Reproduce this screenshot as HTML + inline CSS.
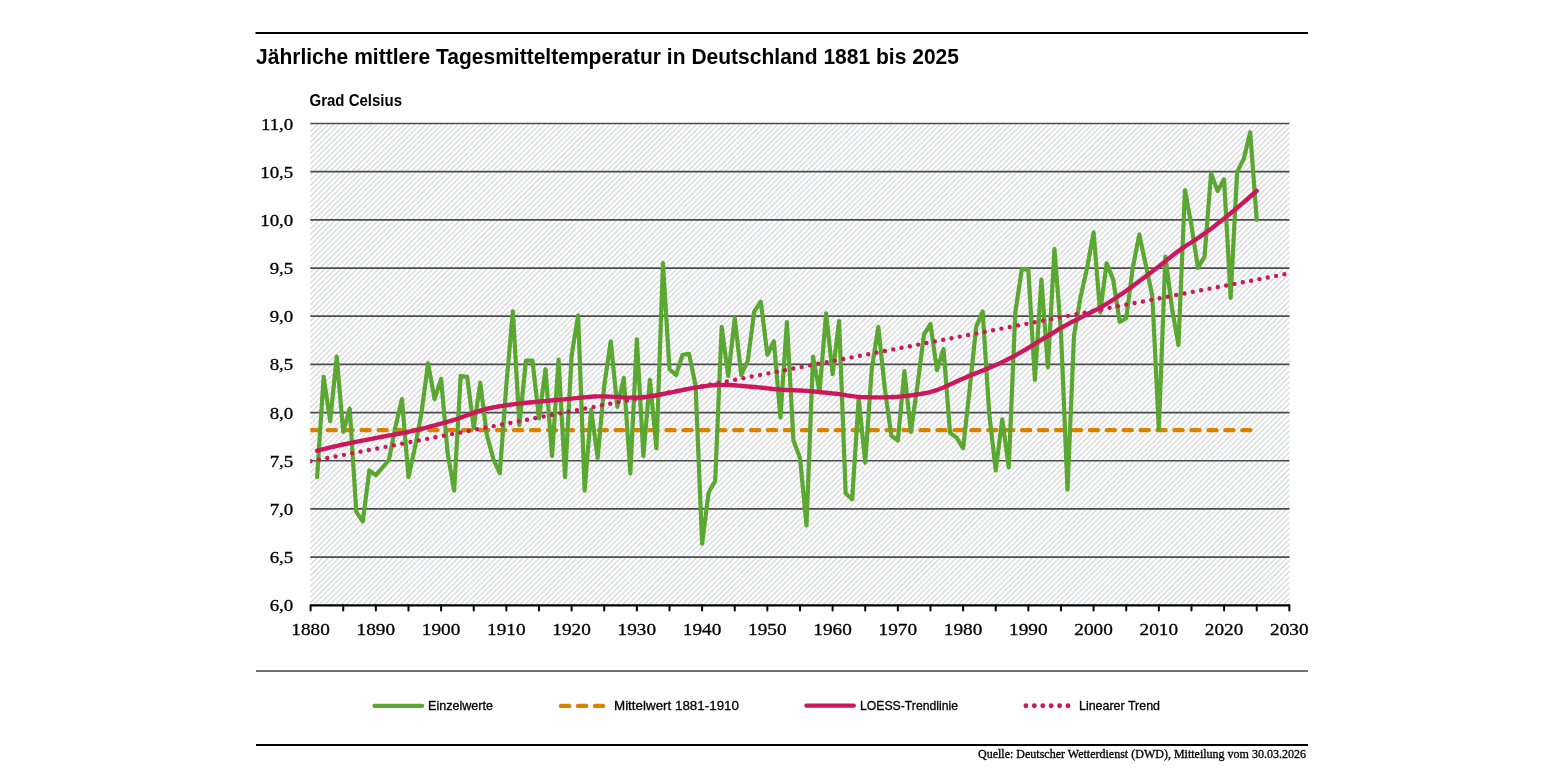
<!DOCTYPE html>
<html><head><meta charset="utf-8"><style>
html,body{margin:0;padding:0;background:#fff;}
body{width:1545px;height:775px;overflow:hidden;}
svg{display:block;will-change:transform;}
.ax{font-family:"Liberation Serif",serif;font-size:16.3px;fill:#000;stroke:#000;stroke-width:0.3px;}
.tt{font-family:"Liberation Sans",sans-serif;font-weight:bold;fill:#000;}
.lg{font-family:"Liberation Sans",sans-serif;font-size:12.6px;fill:#000;stroke:#000;stroke-width:0.3px;}
.src{font-family:"Liberation Serif",serif;font-size:11.5px;fill:#000;stroke:#000;stroke-width:0.3px;}
</style></head><body>
<svg width="1545" height="775" viewBox="0 0 1545 775">
<defs>
<pattern id="hatch" patternUnits="userSpaceOnUse" width="3.83" height="3.83" patternTransform="translate(2.35,0) rotate(45)">
<rect width="3.83" height="3.83" fill="#fff"/>
<rect x="0" y="0" width="1.0" height="3.83" fill="#ccced1"/>
</pattern>
<clipPath id="plot"><rect x="310.3" y="110" width="979.2" height="496"/></clipPath>
</defs>
<rect x="255.5" y="32" width="1052.5" height="2" fill="#000"/>
<text x="256" y="64" class="tt" font-size="22.2" textLength="703" lengthAdjust="spacingAndGlyphs">Jährliche mittlere Tagesmitteltemperatur in Deutschland 1881 bis 2025</text>
<text x="309.5" y="105.5" class="tt" font-size="16.5" textLength="92.5" lengthAdjust="spacingAndGlyphs">Grad Celsius</text>
<rect x="310.3" y="123.5" width="979.2" height="481.8" fill="url(#hatch)"/>
<rect x="362.48" y="123.5" width="0.7" height="481.8" fill="#fff" opacity="0.45"/><rect x="415.81" y="123.5" width="0.7" height="481.8" fill="#fff" opacity="0.45"/><rect x="469.14" y="123.5" width="0.7" height="481.8" fill="#fff" opacity="0.45"/><rect x="522.47" y="123.5" width="0.7" height="481.8" fill="#fff" opacity="0.45"/><rect x="575.80" y="123.5" width="0.7" height="481.8" fill="#fff" opacity="0.45"/><rect x="629.13" y="123.5" width="0.7" height="481.8" fill="#fff" opacity="0.45"/><rect x="682.46" y="123.5" width="0.7" height="481.8" fill="#fff" opacity="0.45"/><rect x="735.79" y="123.5" width="0.7" height="481.8" fill="#fff" opacity="0.45"/><rect x="789.12" y="123.5" width="0.7" height="481.8" fill="#fff" opacity="0.45"/><rect x="842.45" y="123.5" width="0.7" height="481.8" fill="#fff" opacity="0.45"/><rect x="895.78" y="123.5" width="0.7" height="481.8" fill="#fff" opacity="0.45"/><rect x="949.11" y="123.5" width="0.7" height="481.8" fill="#fff" opacity="0.45"/><rect x="1002.44" y="123.5" width="0.7" height="481.8" fill="#fff" opacity="0.45"/><rect x="1055.77" y="123.5" width="0.7" height="481.8" fill="#fff" opacity="0.45"/><rect x="1109.10" y="123.5" width="0.7" height="481.8" fill="#fff" opacity="0.45"/><rect x="1162.43" y="123.5" width="0.7" height="481.8" fill="#fff" opacity="0.45"/><rect x="1215.76" y="123.5" width="0.7" height="481.8" fill="#fff" opacity="0.45"/><rect x="1269.09" y="123.5" width="0.7" height="481.8" fill="#fff" opacity="0.45"/>
<line x1="310.3" y1="123.50" x2="1289.5" y2="123.50" stroke="#4c4c4c" stroke-width="1.7"/>
<line x1="310.3" y1="171.68" x2="1289.5" y2="171.68" stroke="#4c4c4c" stroke-width="1.7"/>
<line x1="310.3" y1="219.86" x2="1289.5" y2="219.86" stroke="#4c4c4c" stroke-width="1.7"/>
<line x1="310.3" y1="268.04" x2="1289.5" y2="268.04" stroke="#4c4c4c" stroke-width="1.7"/>
<line x1="310.3" y1="316.22" x2="1289.5" y2="316.22" stroke="#4c4c4c" stroke-width="1.7"/>
<line x1="310.3" y1="364.40" x2="1289.5" y2="364.40" stroke="#4c4c4c" stroke-width="1.7"/>
<line x1="310.3" y1="412.58" x2="1289.5" y2="412.58" stroke="#4c4c4c" stroke-width="1.7"/>
<line x1="310.3" y1="460.76" x2="1289.5" y2="460.76" stroke="#4c4c4c" stroke-width="1.7"/>
<line x1="310.3" y1="508.94" x2="1289.5" y2="508.94" stroke="#4c4c4c" stroke-width="1.7"/>
<line x1="310.3" y1="557.12" x2="1289.5" y2="557.12" stroke="#4c4c4c" stroke-width="1.7"/>

<text x="260.91" y="129.50" class="ax" textLength="32.39" lengthAdjust="spacingAndGlyphs">11,0</text>
<text x="260.21" y="177.68" class="ax" textLength="33.09" lengthAdjust="spacingAndGlyphs">10,5</text>
<text x="260.21" y="225.86" class="ax" textLength="33.09" lengthAdjust="spacingAndGlyphs">10,0</text>
<text x="269.67" y="274.04" class="ax" textLength="23.63" lengthAdjust="spacingAndGlyphs">9,5</text>
<text x="269.67" y="322.22" class="ax" textLength="23.63" lengthAdjust="spacingAndGlyphs">9,0</text>
<text x="269.67" y="370.40" class="ax" textLength="23.63" lengthAdjust="spacingAndGlyphs">8,5</text>
<text x="269.67" y="418.58" class="ax" textLength="23.63" lengthAdjust="spacingAndGlyphs">8,0</text>
<text x="269.67" y="466.76" class="ax" textLength="23.63" lengthAdjust="spacingAndGlyphs">7,5</text>
<text x="269.67" y="514.94" class="ax" textLength="23.63" lengthAdjust="spacingAndGlyphs">7,0</text>
<text x="269.67" y="563.12" class="ax" textLength="23.63" lengthAdjust="spacingAndGlyphs">6,5</text>
<text x="269.67" y="611.30" class="ax" textLength="23.63" lengthAdjust="spacingAndGlyphs">6,0</text>

<g clip-path="url(#plot)">
<path d="M310.80 430.2 h8.16 M327.74 430.2 h8.16 M344.67 430.2 h8.16 M361.61 430.2 h8.16 M378.54 430.2 h8.16 M395.48 430.2 h8.16 M412.41 430.2 h8.16 M429.35 430.2 h8.16 M446.28 430.2 h8.16 M463.22 430.2 h8.16 M480.15 430.2 h8.16 M497.09 430.2 h8.16 M514.02 430.2 h8.16 M530.95 430.2 h8.16 M547.89 430.2 h8.16 M564.83 430.2 h8.16 M581.76 430.2 h8.16 M598.69 430.2 h8.16 M615.63 430.2 h8.16 M632.57 430.2 h8.16 M649.50 430.2 h8.16 M666.43 430.2 h8.16 M683.37 430.2 h8.16 M700.31 430.2 h8.16 M717.24 430.2 h8.16 M734.17 430.2 h8.16 M751.11 430.2 h8.16 M768.04 430.2 h8.16 M784.98 430.2 h8.16 M801.91 430.2 h8.16 M818.85 430.2 h8.16 M835.79 430.2 h8.16 M852.72 430.2 h8.16 M869.65 430.2 h8.16 M886.59 430.2 h8.16 M903.52 430.2 h8.16 M920.46 430.2 h8.16 M937.39 430.2 h8.16 M954.33 430.2 h8.16 M971.26 430.2 h8.16 M988.20 430.2 h8.16 M1005.13 430.2 h8.16 M1022.07 430.2 h8.16 M1039.00 430.2 h8.16 M1055.94 430.2 h8.16 M1072.88 430.2 h8.16 M1089.81 430.2 h8.16 M1106.74 430.2 h8.16 M1123.68 430.2 h8.16 M1140.62 430.2 h8.16 M1157.55 430.2 h8.16 M1174.48 430.2 h8.16 M1191.42 430.2 h8.16 M1208.36 430.2 h8.16 M1225.29 430.2 h8.16 M1242.22 430.2 h8.16" stroke="#d98200" stroke-width="4.3" stroke-linecap="round" fill="none"/>
<polyline points="317.12,477.14 323.65,376.93 330.18,421.25 336.70,356.69 343.23,431.85 349.75,408.73 356.28,511.83 362.80,521.47 369.33,470.40 375.85,475.21 382.38,467.51 388.90,459.80 395.43,427.03 401.95,399.09 408.48,477.14 415.00,447.27 421.53,412.58 428.05,363.44 434.58,399.09 441.10,378.85 447.62,453.05 454.15,490.63 460.68,375.96 467.20,376.93 473.73,428.00 480.25,382.71 486.78,434.74 493.30,458.83 499.83,473.29 506.35,384.64 512.88,311.40 519.40,425.11 525.93,360.55 532.45,360.55 538.98,418.36 545.50,369.22 552.03,455.94 558.55,359.58 565.08,477.14 571.60,355.73 578.12,315.26 584.65,490.63 591.17,409.69 597.70,457.87 604.23,385.60 610.75,341.27 617.28,406.80 623.80,377.89 630.33,473.29 636.85,339.35 643.38,455.94 649.90,379.82 656.43,448.23 662.95,263.22 669.48,369.22 676.00,375.00 682.53,354.76 689.05,353.80 695.58,385.60 702.10,543.63 708.62,492.56 715.15,481.00 721.68,326.82 728.20,375.96 734.73,318.15 741.25,375.00 747.78,360.55 754.30,311.40 760.83,301.77 767.35,354.76 773.88,341.27 780.40,417.40 786.93,322.00 793.45,440.52 799.98,457.87 806.50,525.32 813.03,356.69 819.55,392.34 826.08,313.33 832.60,374.04 839.12,321.04 845.65,493.52 852.18,499.30 858.70,398.13 865.23,462.69 871.75,369.22 878.28,326.82 884.80,388.49 891.33,435.71 897.85,440.52 904.38,371.15 910.90,431.85 917.43,385.60 923.95,334.53 930.48,323.93 937.00,370.18 943.53,348.98 950.05,432.82 956.58,437.63 963.10,448.23 969.63,389.45 976.15,326.82 982.68,311.40 989.20,413.54 995.73,470.40 1002.25,419.33 1008.78,467.51 1015.30,312.37 1021.83,269.00 1028.35,269.97 1034.88,379.82 1041.40,279.60 1047.93,367.29 1054.45,248.77 1060.97,332.60 1067.50,489.67 1074.03,335.49 1080.55,296.95 1087.08,268.04 1093.60,232.39 1100.12,312.37 1106.65,263.22 1113.18,279.60 1119.70,322.00 1126.22,318.15 1132.75,268.04 1139.28,234.31 1145.80,265.15 1152.33,295.98 1158.85,429.92 1165.38,256.48 1171.90,307.55 1178.43,345.13 1184.95,189.99 1191.47,225.64 1198.00,268.04 1204.53,256.48 1211.05,173.61 1217.58,190.95 1224.10,179.39 1230.62,297.91 1237.15,171.68 1243.68,159.15 1250.20,132.17 1256.72,219.86" fill="none" stroke="#5aa832" stroke-width="4.2" stroke-linejoin="round" stroke-linecap="round"/>
<polyline points="317.12,450.74 319.05,450.27 321.51,449.65 324.43,448.91 327.73,448.09 331.33,447.21 335.17,446.29 339.16,445.37 343.23,444.48 347.54,443.57 352.25,442.62 357.24,441.63 362.39,440.63 367.60,439.62 372.74,438.63 377.70,437.68 382.38,436.77 386.72,435.94 390.84,435.18 394.80,434.47 398.69,433.77 402.57,433.04 406.54,432.26 410.65,431.40 415.00,430.41 419.65,429.28 424.56,428.04 429.63,426.72 434.78,425.34 439.90,423.93 444.90,422.52 449.68,421.14 454.15,419.81 458.27,418.49 462.12,417.14 465.76,415.78 469.28,414.44 472.74,413.14 476.22,411.90 479.78,410.74 483.51,409.69 487.29,408.76 490.99,407.93 494.68,407.18 498.44,406.49 502.33,405.85 506.42,405.23 510.78,404.62 515.49,404.00 520.66,403.38 526.30,402.78 532.27,402.19 538.40,401.63 544.57,401.09 550.63,400.56 556.42,400.06 561.81,399.57 566.82,399.08 571.59,398.58 576.18,398.09 580.61,397.63 584.94,397.20 589.20,396.85 593.44,396.57 597.70,396.39 602.02,396.35 606.39,396.45 610.75,396.65 615.03,396.90 619.19,397.16 623.16,397.40 626.89,397.58 630.33,397.64 633.37,397.63 636.04,397.58 638.45,397.50 640.68,397.37 642.85,397.20 645.04,396.99 647.35,396.72 649.90,396.39 652.65,395.99 655.50,395.51 658.42,394.97 661.40,394.39 664.41,393.78 667.43,393.16 670.43,392.54 673.39,391.96 676.32,391.38 679.23,390.77 682.14,390.15 685.05,389.53 687.98,388.92 690.92,388.35 693.88,387.81 696.88,387.33 699.86,386.89 702.79,386.45 705.71,386.03 708.67,385.65 711.70,385.33 714.85,385.07 718.16,384.90 721.68,384.83 725.48,384.88 729.58,385.04 733.88,385.30 738.27,385.62 742.67,385.98 746.98,386.35 751.11,386.72 754.95,387.04 758.50,387.36 761.85,387.70 765.04,388.05 768.12,388.41 771.15,388.75 774.18,389.08 777.24,389.38 780.40,389.65 783.61,389.86 786.80,390.02 790.00,390.14 793.21,390.25 796.44,390.37 799.73,390.50 803.08,390.67 806.50,390.90 810.05,391.18 813.72,391.50 817.47,391.85 821.26,392.22 825.04,392.61 828.77,393.01 832.39,393.40 835.86,393.79 839.15,394.19 842.28,394.63 845.29,395.09 848.26,395.55 851.23,395.98 854.24,396.38 857.37,396.71 860.66,396.97 864.15,397.15 867.81,397.28 871.59,397.37 875.42,397.40 879.24,397.40 882.99,397.35 886.60,397.27 890.02,397.16 893.24,397.02 896.32,396.84 899.29,396.62 902.17,396.36 905.01,396.07 907.82,395.73 910.65,395.36 913.51,394.95 916.35,394.53 919.11,394.13 921.84,393.71 924.56,393.25 927.33,392.70 930.19,392.03 933.19,391.22 936.35,390.22 939.70,389.01 943.21,387.58 946.85,385.99 950.58,384.29 954.36,382.53 958.17,380.77 961.96,379.04 965.71,377.41 969.48,375.84 973.34,374.27 977.23,372.71 981.13,371.16 984.97,369.62 988.71,368.09 992.31,366.57 995.73,365.07 998.88,363.64 1001.80,362.28 1004.56,360.97 1007.23,359.65 1009.88,358.30 1012.61,356.87 1015.48,355.32 1018.56,353.61 1021.92,351.69 1025.50,349.57 1029.21,347.33 1033.00,345.01 1036.77,342.68 1040.46,340.40 1043.99,338.25 1047.27,336.26 1050.23,334.49 1052.90,332.87 1055.39,331.37 1057.79,329.92 1060.23,328.47 1062.81,326.98 1065.63,325.38 1068.81,323.64 1072.40,321.74 1076.35,319.73 1080.54,317.65 1084.87,315.50 1089.23,313.33 1093.52,311.15 1097.62,308.99 1101.43,306.87 1104.91,304.84 1108.16,302.88 1111.24,300.94 1114.24,299.00 1117.22,297.01 1120.27,294.92 1123.46,292.70 1126.88,290.30 1130.58,287.65 1134.52,284.77 1138.62,281.73 1142.78,278.60 1146.91,275.48 1150.92,272.43 1154.71,269.54 1158.20,266.88 1161.34,264.46 1164.22,262.20 1166.90,260.06 1169.45,258.02 1171.94,256.03 1174.44,254.08 1177.01,252.12 1179.73,250.12 1182.57,248.12 1185.46,246.17 1188.40,244.25 1191.35,242.34 1194.33,240.42 1197.30,238.47 1200.27,236.47 1203.22,234.41 1206.11,232.33 1208.94,230.26 1211.74,228.19 1214.56,226.06 1217.42,223.86 1220.38,221.56 1223.46,219.11 1226.71,216.49 1230.35,213.49 1234.46,210.04 1238.81,206.35 1243.19,202.60 1247.38,198.99 1251.18,195.72 1254.36,192.97 1256.72,190.95" fill="none" stroke="#cc175a" stroke-width="4.4" stroke-linejoin="round" stroke-linecap="round"/>
<polyline points="310.60,461.24 1289.35,273.34" fill="none" stroke="#cc175a" stroke-width="4.4" stroke-dasharray="0 8.475" stroke-linecap="round"/>
</g>
<line x1="310.6" y1="605.3" x2="1289.4" y2="605.3" stroke="#000" stroke-width="2.2"/>
<line x1="310.60" y1="605.3" x2="310.60" y2="610.5" stroke="#000" stroke-width="2" stroke-linecap="round"/>
<line x1="343.23" y1="605.3" x2="343.23" y2="610.5" stroke="#000" stroke-width="2" stroke-linecap="round"/>
<line x1="375.85" y1="605.3" x2="375.85" y2="610.5" stroke="#000" stroke-width="2" stroke-linecap="round"/>
<line x1="408.48" y1="605.3" x2="408.48" y2="610.5" stroke="#000" stroke-width="2" stroke-linecap="round"/>
<line x1="441.10" y1="605.3" x2="441.10" y2="610.5" stroke="#000" stroke-width="2" stroke-linecap="round"/>
<line x1="473.73" y1="605.3" x2="473.73" y2="610.5" stroke="#000" stroke-width="2" stroke-linecap="round"/>
<line x1="506.35" y1="605.3" x2="506.35" y2="610.5" stroke="#000" stroke-width="2" stroke-linecap="round"/>
<line x1="538.98" y1="605.3" x2="538.98" y2="610.5" stroke="#000" stroke-width="2" stroke-linecap="round"/>
<line x1="571.60" y1="605.3" x2="571.60" y2="610.5" stroke="#000" stroke-width="2" stroke-linecap="round"/>
<line x1="604.23" y1="605.3" x2="604.23" y2="610.5" stroke="#000" stroke-width="2" stroke-linecap="round"/>
<line x1="636.85" y1="605.3" x2="636.85" y2="610.5" stroke="#000" stroke-width="2" stroke-linecap="round"/>
<line x1="669.48" y1="605.3" x2="669.48" y2="610.5" stroke="#000" stroke-width="2" stroke-linecap="round"/>
<line x1="702.10" y1="605.3" x2="702.10" y2="610.5" stroke="#000" stroke-width="2" stroke-linecap="round"/>
<line x1="734.73" y1="605.3" x2="734.73" y2="610.5" stroke="#000" stroke-width="2" stroke-linecap="round"/>
<line x1="767.35" y1="605.3" x2="767.35" y2="610.5" stroke="#000" stroke-width="2" stroke-linecap="round"/>
<line x1="799.98" y1="605.3" x2="799.98" y2="610.5" stroke="#000" stroke-width="2" stroke-linecap="round"/>
<line x1="832.60" y1="605.3" x2="832.60" y2="610.5" stroke="#000" stroke-width="2" stroke-linecap="round"/>
<line x1="865.23" y1="605.3" x2="865.23" y2="610.5" stroke="#000" stroke-width="2" stroke-linecap="round"/>
<line x1="897.85" y1="605.3" x2="897.85" y2="610.5" stroke="#000" stroke-width="2" stroke-linecap="round"/>
<line x1="930.48" y1="605.3" x2="930.48" y2="610.5" stroke="#000" stroke-width="2" stroke-linecap="round"/>
<line x1="963.10" y1="605.3" x2="963.10" y2="610.5" stroke="#000" stroke-width="2" stroke-linecap="round"/>
<line x1="995.73" y1="605.3" x2="995.73" y2="610.5" stroke="#000" stroke-width="2" stroke-linecap="round"/>
<line x1="1028.35" y1="605.3" x2="1028.35" y2="610.5" stroke="#000" stroke-width="2" stroke-linecap="round"/>
<line x1="1060.97" y1="605.3" x2="1060.97" y2="610.5" stroke="#000" stroke-width="2" stroke-linecap="round"/>
<line x1="1093.60" y1="605.3" x2="1093.60" y2="610.5" stroke="#000" stroke-width="2" stroke-linecap="round"/>
<line x1="1126.22" y1="605.3" x2="1126.22" y2="610.5" stroke="#000" stroke-width="2" stroke-linecap="round"/>
<line x1="1158.85" y1="605.3" x2="1158.85" y2="610.5" stroke="#000" stroke-width="2" stroke-linecap="round"/>
<line x1="1191.47" y1="605.3" x2="1191.47" y2="610.5" stroke="#000" stroke-width="2" stroke-linecap="round"/>
<line x1="1224.10" y1="605.3" x2="1224.10" y2="610.5" stroke="#000" stroke-width="2" stroke-linecap="round"/>
<line x1="1256.72" y1="605.3" x2="1256.72" y2="610.5" stroke="#000" stroke-width="2" stroke-linecap="round"/>
<line x1="1289.35" y1="605.3" x2="1289.35" y2="610.5" stroke="#000" stroke-width="2" stroke-linecap="round"/>

<text x="291.37" y="634.8" class="ax" textLength="38.47" lengthAdjust="spacingAndGlyphs">1880</text>
<text x="356.62" y="634.8" class="ax" textLength="38.47" lengthAdjust="spacingAndGlyphs">1890</text>
<text x="421.87" y="634.8" class="ax" textLength="38.47" lengthAdjust="spacingAndGlyphs">1900</text>
<text x="487.12" y="634.8" class="ax" textLength="38.47" lengthAdjust="spacingAndGlyphs">1910</text>
<text x="552.37" y="634.8" class="ax" textLength="38.47" lengthAdjust="spacingAndGlyphs">1920</text>
<text x="617.62" y="634.8" class="ax" textLength="38.47" lengthAdjust="spacingAndGlyphs">1930</text>
<text x="682.87" y="634.8" class="ax" textLength="38.47" lengthAdjust="spacingAndGlyphs">1940</text>
<text x="748.12" y="634.8" class="ax" textLength="38.47" lengthAdjust="spacingAndGlyphs">1950</text>
<text x="813.37" y="634.8" class="ax" textLength="38.47" lengthAdjust="spacingAndGlyphs">1960</text>
<text x="878.62" y="634.8" class="ax" textLength="38.47" lengthAdjust="spacingAndGlyphs">1970</text>
<text x="943.87" y="634.8" class="ax" textLength="38.47" lengthAdjust="spacingAndGlyphs">1980</text>
<text x="1009.12" y="634.8" class="ax" textLength="38.47" lengthAdjust="spacingAndGlyphs">1990</text>
<text x="1074.37" y="634.8" class="ax" textLength="38.47" lengthAdjust="spacingAndGlyphs">2000</text>
<text x="1139.62" y="634.8" class="ax" textLength="38.47" lengthAdjust="spacingAndGlyphs">2010</text>
<text x="1204.87" y="634.8" class="ax" textLength="38.47" lengthAdjust="spacingAndGlyphs">2020</text>
<text x="1270.12" y="634.8" class="ax" textLength="38.47" lengthAdjust="spacingAndGlyphs">2030</text>

<rect x="256" y="670" width="1052" height="2" fill="#707070"/>
<line x1="374.5" y1="705.9" x2="422.2" y2="705.9" stroke="#5aa832" stroke-width="4.3" stroke-linecap="round"/>
<text x="428" y="710" class="lg" textLength="65" lengthAdjust="spacingAndGlyphs">Einzelwerte</text>
<line x1="561" y1="705.9" x2="603" y2="705.9" stroke="#d98200" stroke-width="4.4" stroke-dasharray="8.2 8.8" stroke-linecap="round"/>
<text x="614" y="710" class="lg" textLength="125" lengthAdjust="spacingAndGlyphs">Mittelwert 1881-1910</text>
<line x1="806.4" y1="705.7" x2="853.8" y2="705.7" stroke="#cc175a" stroke-width="4.3" stroke-linecap="round"/>
<text x="860" y="710" class="lg" textLength="98" lengthAdjust="spacingAndGlyphs">LOESS-Trendlinie</text>
<line x1="1025.9" y1="705.7" x2="1068.5" y2="705.7" stroke="#cc175a" stroke-width="4.9" stroke-dasharray="0 8.42" stroke-linecap="round"/>
<text x="1079" y="710" class="lg" textLength="81" lengthAdjust="spacingAndGlyphs">Linearer Trend</text>
<rect x="256" y="744" width="1052" height="2" fill="#000"/>
<text x="978" y="757.7" class="src" textLength="328" lengthAdjust="spacingAndGlyphs">Quelle: Deutscher Wetterdienst (DWD), Mitteilung vom 30.03.2026</text>
</svg>
</body></html>
